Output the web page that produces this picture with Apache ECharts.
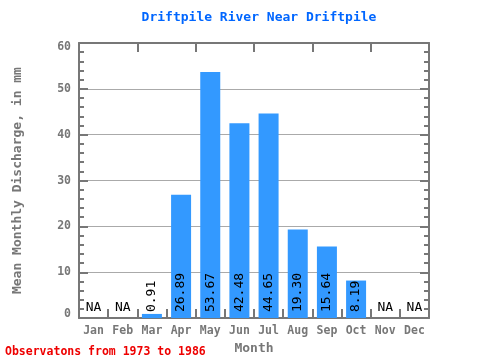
<!DOCTYPE html>
<html>
<head>
<meta charset="utf-8">
<script src="https://cdn.jsdelivr.net/npm/echarts@6/dist/echarts.min.js"></script>
<style>html,body{margin:0;padding:0;background:#fff}#c{width:480px;height:360px}</style>
</head>
<body>
<div id="c"></div>
<script>
const months = ['Jan','Feb','Mar','Apr','May','Jun','Jul','Aug','Sep','Oct','Nov','Dec'];
const values = [null, null, 0.91, 26.89, 53.67, 42.48, 44.65, 19.30, 15.64, 8.19, null, null];
const yMin = 0, yMax = 60, yInterval = 10;
const titleText = 'Driftpile River Near Driftpile';
const yName = 'Mean Monthly Discharge, in mm';
const xName = 'Month';
const footnote = 'Observatons from 1973 to 1986';

const FONT = 'DejaVu Sans Mono';
const GREY = '#777';

const barData = values.map(v => v === null
  ? { value: 0, label: { rotate: 0, position: 'top', distance: 4, align: 'center', verticalAlign: 'bottom', formatter: 'NA' } }
  : { value: v });

const tickStyle = () => ({ show: true, inside: true, length: 9, alignWithLabel: false, lineStyle: { color: GREY, width: 2 } });
const minorStyle = () => ({ show: true, splitNumber: 5, length: 5, lineStyle: { color: GREY, width: 2 } });
const lineStyle = () => ({ show: true, onZero: false, lineStyle: { color: GREY, width: 2 } });

const chart = echarts.init(document.getElementById('c'), null, { renderer: 'canvas' });
chart.setOption({
  animation: false,
  backgroundColor: '#fff',
  title: {
    text: titleText, left: 254, top: 6, textAlign: 'center',
    textStyle: { color: '#0066ff', fontFamily: FONT, fontWeight: 'bold', fontSize: 13 }
  },
  graphic: [{
    type: 'text', left: 5, top: 346,
    style: { text: footnote, fill: '#ee0000', font: 'bold 11.5px "DejaVu Sans Mono"' }
  }],
  grid: { left: 79, top: 43, right: 51, bottom: 39 },
  xAxis: [{
    type: 'category', data: months, position: 'bottom', gridIndex: 0,
    name: xName, nameLocation: 'middle', nameGap: 21,
    nameTextStyle: { color: GREY, fontFamily: FONT, fontWeight: 'bold', fontSize: 13 },
    axisLine: lineStyle(),
    axisTick: tickStyle(),
    axisLabel: { color: GREY, fontFamily: FONT, fontWeight: 'bold', fontSize: 11.5, margin: 7 }
  }, {
    type: 'category', data: months, position: 'top', gridIndex: 0,
    axisLine: lineStyle(),
    axisTick: tickStyle(),
    axisLabel: { show: false }
  }],
  yAxis: [{
    type: 'value', min: yMin, max: yMax, interval: yInterval, position: 'left',
    name: yName, nameLocation: 'middle', nameGap: 55,
    nameTextStyle: { color: GREY, fontFamily: FONT, fontWeight: 'bold', fontSize: 13 },
    axisLine: lineStyle(),
    axisTick: tickStyle(),
    minorTick: minorStyle(),
    splitLine: { show: true, lineStyle: { color: '#aaa', width: 1 } },
    axisLabel: {
      color: GREY, fontFamily: FONT, fontWeight: 'bold', fontSize: 11.5, margin: 8,
      formatter: v => v === yMax ? '{t|' + v + '}' : (v === yMin ? '{b|' + v + '}' : String(v)),
      rich: {
        t: { color: GREY, fontFamily: FONT, fontWeight: 'bold', fontSize: 11.5, padding: [8, 0, 0, 0] },
        b: { color: GREY, fontFamily: FONT, fontWeight: 'bold', fontSize: 11.5, padding: [0, 0, 8, 0] }
      }
    }
  }, {
    type: 'value', min: yMin, max: yMax, interval: yInterval, position: 'right',
    axisLine: lineStyle(),
    axisTick: tickStyle(),
    minorTick: minorStyle(),
    splitLine: { show: false },
    axisLabel: { show: false }
  }],
  series: [{
    type: 'bar', xAxisIndex: 0, yAxisIndex: 0,
    data: barData, barWidth: 20,
    itemStyle: { color: '#3399ff' },
    label: {
      show: true, position: 'insideBottom', rotate: 90, distance: 6,
      align: 'left', verticalAlign: 'middle',
      color: '#000', fontFamily: FONT, fontSize: 13,
      formatter: p => p.value.toFixed(2)
    }
  }]
});
</script>
</body>
</html>
